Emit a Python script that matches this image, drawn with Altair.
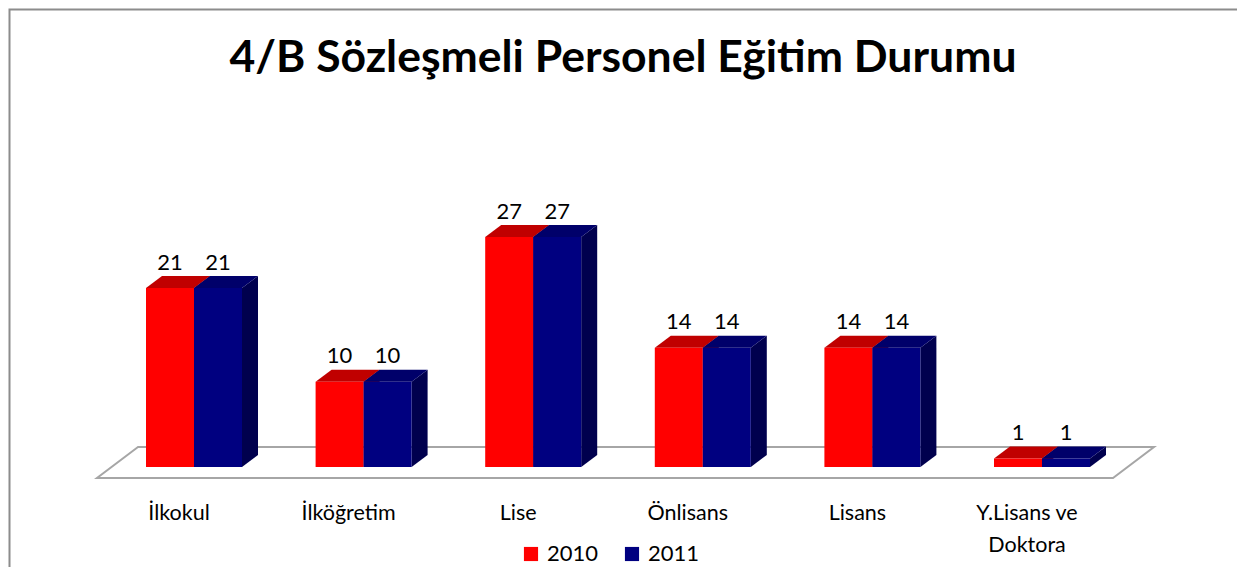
import altair as alt
import pandas as pd

# ---------------- data ----------------
categories = ["İlkokul", "İlköğretim", "Lise", "Önlisans", "Lisans", "Y.Lisans ve\nDoktora"]
years = ["2010", "2011"]
values_2010 = [21, 10, 27, 14, 14, 1]
values_2011 = [21, 10, 27, 14, 14, 1]
title_text = "4/B Sözleşmeli Personel Eğitim Durumu"

# ---------------- styling ----------------
front_colors = ["#FF0000", "#000080"]
top_colors = ["#C00000", "#00006A"]
side_colors = ["#A00000", "#00004E"]
FONT = "Lato"

W, H = 1229, 559            # whole chart (autosize none, padding 0)
UX, X0 = 169.6, 186         # px per category, px of first group centre
UY, Y0 = 8.52, 459          # px per unit, px of baseline
x_dom = [-X0 / UX, (W - X0) / UX]
y_dom = [-(H - Y0) / UY, Y0 / UY]
BW = 48 / UX                # bar width in x units
DX, DY = 16 / UX, 12 / UY   # 3-D depth offsets

series = [values_2010, values_2011]

front_rows, side_rows, top_rows, label_rows = [], [], [], []
for i, cat in enumerate(categories):
    for s, yr in enumerate(years):
        v = series[s][i]
        xl = i - BW + s * BW
        xr = xl + BW
        bid = f"{i}-{s}"
        front_rows.append(dict(x=xl, x2=xr, y=0, y2=v, year=yr))
        side_rows += [dict(bid=bid, x=xr, y=v, y2=0, col=side_colors[s]),
                      dict(bid=bid, x=xr + DX, y=v + DY, y2=DY, col=side_colors[s])]
        top_rows += [dict(bid=bid, y=v, x=xl, x2=xr, col=top_colors[s]),
                     dict(bid=bid, y=v + DY, x=xl + DX, x2=xr + DX, col=top_colors[s])]
        label_rows.append(dict(x=(xl + xr) / 2, y=v + DY + 0.75, t=str(v)))

n = len(categories)
floor_front, floor_back = -11 / UY, -11 / UY + 31 / UY
floor_rows = [dict(y=floor_front, x=-97 / UX, x2=n - 1 + 71 / UX),
              dict(y=floor_back, x=-97 / UX + 41 / UX, x2=n - 1 + 71 / UX + 41 / UX)]

cat_rows = [dict(x=i - 15 / UX, y=-53 / UY, t=c) for i, c in enumerate(categories)]

# outer frame (top and left edges only): a polyline along the chart border
fx_in, fy_in = 1.5 / UX, 1.5 / UY
frame_rows = [dict(fx=x_dom[1], fy=y_dom[1] - fy_in, o=0),
              dict(fx=x_dom[0] + fx_in, fy=y_dom[1] - fy_in, o=1),
              dict(fx=x_dom[0] + fx_in, fy=y_dom[0], o=2)]

xs = alt.Scale(domain=x_dom, nice=False, zero=False)
ys = alt.Scale(domain=y_dom, nice=False, zero=False)

frame = alt.Chart(pd.DataFrame(frame_rows)).mark_line(
    color="#8C8C8C", strokeWidth=2, strokeCap="butt", strokeJoin="miter"
).encode(
    x=alt.X("fx:Q", scale=xs, axis=None),
    y=alt.Y("fy:Q", scale=ys, axis=None),
    order="o:O",
)

floor = alt.Chart(pd.DataFrame(floor_rows)).mark_area(
    orient="horizontal", fill="white", stroke="#A6A6A6", strokeWidth=2
).encode(
    y=alt.Y("y:Q", scale=ys, axis=None),
    x=alt.X("x:Q", scale=xs, axis=None, stack=None),
    x2="x2:Q",
)

sides = alt.Chart(pd.DataFrame(side_rows)).mark_area(orient="vertical").encode(
    x=alt.X("x:Q", scale=xs, axis=None),
    y=alt.Y("y:Q", scale=ys, axis=None, stack=None),
    y2="y2:Q",
    detail="bid:N",
    color=alt.Color("col:N", scale=None),
)

tops = alt.Chart(pd.DataFrame(top_rows)).mark_area(orient="horizontal").encode(
    y=alt.Y("y:Q", scale=ys, axis=None),
    x=alt.X("x:Q", scale=xs, axis=None, stack=None),
    x2="x2:Q",
    detail="bid:N",
    color=alt.Color("col:N", scale=None),
)

fronts = alt.Chart(pd.DataFrame(front_rows)).mark_rect().encode(
    x=alt.X("x:Q", scale=xs, axis=None),
    x2="x2:Q",
    y=alt.Y("y:Q", scale=ys, axis=None),
    y2="y2:Q",
    color=alt.Color(
        "year:N",
        scale=alt.Scale(domain=years, range=front_colors),
        legend=alt.Legend(
            title=None, orient="none", legendX=512, legendY=535,
            direction="horizontal", symbolType="square", symbolSize=200,
            symbolStrokeWidth=0, labelFont=FONT, labelFontSize=22,
            labelColor="black", columnPadding=22, labelOffset=5, padding=0,
        ),
    ),
)

labels = alt.Chart(pd.DataFrame(label_rows)).mark_text(
    font=FONT, fontSize=22, color="black", baseline="alphabetic", align="center"
).encode(
    x=alt.X("x:Q", scale=xs, axis=None),
    y=alt.Y("y:Q", scale=ys, axis=None),
    text="t:N",
)

cat_labels = alt.Chart(pd.DataFrame(cat_rows)).mark_text(
    font=FONT, fontSize=21.5, color="black", baseline="alphabetic", align="center",
    lineBreak="\n", lineHeight=32,
).encode(
    x=alt.X("x:Q", scale=xs, axis=None),
    y=alt.Y("y:Q", scale=ys, axis=None),
    text="t:N",
)

title = alt.Chart(pd.DataFrame([dict(t=title_text)])).mark_text(
    font=FONT, fontSize=44.5, fontWeight="bold", color="black",
    baseline="alphabetic", align="center",
).encode(x=alt.value(615), y=alt.value(64), text="t:N")

chart = alt.layer(
    frame, floor, sides, tops, fronts, labels, cat_labels, title
).resolve_scale(color="independent").properties(
    width=W, height=H, autosize=alt.AutoSizeParams(type="none"), padding=0,
    background="white",
).configure_view(stroke=None)

chart.save("out.html", embed_options={"renderer": "svg", "actions": False})
